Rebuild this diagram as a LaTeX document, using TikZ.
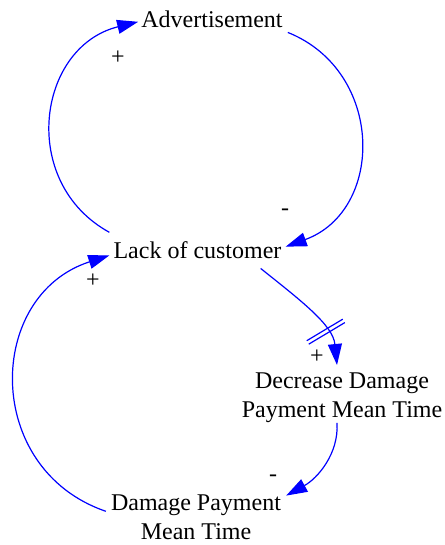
\documentclass[tikz,border=0pt]{standalone}
\usepackage{fontspec}
\setmainfont{Liberation Serif}
\newfontfamily\diagserif{Liberation Serif}
\usetikzlibrary{arrows.meta,decorations.markings}
\begin{document}
\begin{tikzpicture}[x=1pt,y=-1pt,
  txt/.style={font=\diagserif\fontsize{24}{29}\selectfont, inner sep=2pt, align=center},
  sgn/.style={font=\diagserif\fontsize{24}{29}\selectfont, inner sep=0pt},
  link/.style={blue, line width=1.2pt, -{Triangle[length=21pt,width=14pt]}},
  delaymark/.style={postaction={decorate}, decoration={markings, mark=at position 0.72 with {\draw[-, blue, line width=1.2pt] (-2,-21)--(-2,21) (2,-21)--(2,21);}}}
]
\useasboundingbox (0,0) rectangle (444,545);
\node[txt, anchor=base] (adv) at (212,28) {Advertisement};
\node[txt, anchor=base] (lack) at (197.5,258) {Lack of customer};
\node[txt, anchor=north] (dec) at (342,370.6) {Decrease Damage\\Payment Mean Time};
\node[txt, anchor=north] (dmt) at (196,492.6) {Damage Payment\\Mean Time};

\draw[link] ([shift={(-2,-6.6)}]lack.north west) .. controls +(-91,-50) and +(-101,25) .. ([shift={(-1,2)}]adv.west);
\draw[link] ([shift={(3,2)}]adv.south east) .. controls +(97,39) and +(99,-36) .. ([shift={(2,-3)}]lack.east);
\draw[link, delaymark] ([shift={(-23,8)}]lack.south east) .. controls +(40,32) and +(-4,-40) .. ([shift={(-5,-5.6)}]dec.north);
\draw[link] ([shift={(-5,-2)}]dec.south) .. controls +(2,31) and +(31,-17) .. ([shift={(3,3)}]dmt.north east);
\draw[link] ([shift={(-3,-6)}]dmt.west) .. controls +(-123,-42) and +(-124,40) .. ([shift={(-2,-5)}]lack.south west);

\node[sgn] (s1) at (118,58) {+};
\node[sgn] (s2) at (285,212) {-};
\node[sgn] (s3) at (317,357) {+};
\node[sgn] (s4) at (273,478) {-};
\node[sgn] (s5) at (93,281) {+};
\end{tikzpicture}
\end{document}
